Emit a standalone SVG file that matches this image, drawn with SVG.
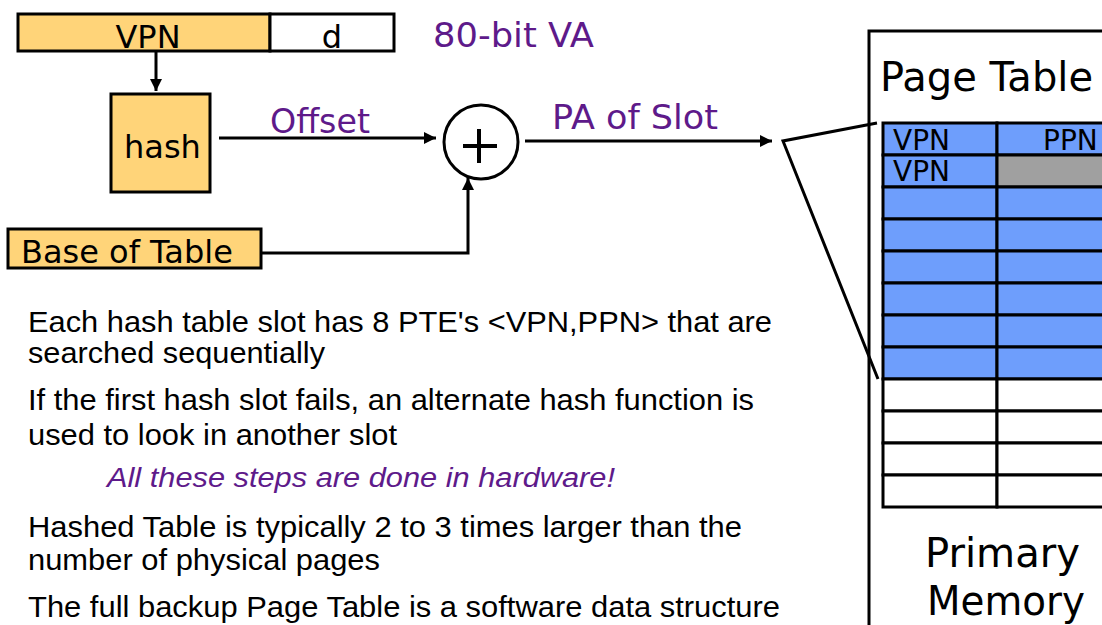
<svg xmlns="http://www.w3.org/2000/svg" width="1102" height="625" viewBox="0 0 1102 625">
  <style>
    .box { stroke: #000; stroke-width: 3; }
    .va { fill: #FFD479; }
    .wh { fill: #fff; }
    .lbl { font-family: "DejaVu Sans", Verdana, sans-serif; fill: #000; }
    .pur { font-family: "DejaVu Sans", Verdana, sans-serif; fill: #5E1A8A; }
    .wire { fill: none; stroke: #000; stroke-width: 3; }
    .body { font-family: "Liberation Sans", Arial, sans-serif; font-size: 30px; fill: #000; }
    .note { font-family: "Liberation Sans", Arial, sans-serif; font-size: 27px; font-style: italic; fill: #5E1A8A; }
    .pte { fill: #6E9EFC; stroke: #000; stroke-width: 3; }
    .empty { fill: #fff; stroke: #000; stroke-width: 3; }
    .miss { fill: #A0A0A0; stroke: #000; stroke-width: 3; }
  </style>
  <defs>
    <marker id="arrow" viewBox="0 0 10 10" refX="10" refY="5" markerWidth="4" markerHeight="4" orient="auto" markerUnits="strokeWidth">
      <path d="M0,0 L10,5 L0,10 z" fill="#000"/>
    </marker>
  </defs>
  <rect width="1102" height="625" fill="#fff"/>

  <!-- virtual address: VPN | d -->
  <g id="va">
    <rect class="box va" x="18" y="14" width="252" height="37"/>
    <rect class="box wh" x="270" y="14" width="124" height="37"/>
    <text class="lbl" x="148" y="48" font-size="32" text-anchor="middle">VPN</text>
    <text class="lbl" x="332" y="48" font-size="32" text-anchor="middle">d</text>
  </g>
  <text class="pur" x="433" y="47" font-size="33" textLength="161" lengthAdjust="spacingAndGlyphs">80-bit VA</text>

  <!-- hash function -->
  <g id="hash">
    <rect class="box va" x="111" y="94" width="99" height="98"/>
    <text class="lbl" x="124" y="158" font-size="32">hash</text>
  </g>

  <!-- table base register -->
  <g id="base">
    <rect class="box va" x="8" y="229" width="253" height="39"/>
    <text class="lbl" x="21" y="263" font-size="32">Base of Table</text>
  </g>

  <!-- adder -->
  <g id="adder">
    <circle cx="481" cy="142" r="37" fill="#fff" stroke="#000" stroke-width="3"/>
    <path d="M463,146 H497 M479,129 V163" stroke="#000" stroke-width="4" fill="none"/>
  </g>

  <!-- memory holding the hashed page table -->
  <g id="memory">
    <rect x="869" y="31" width="260" height="620" fill="#fff" stroke="#000" stroke-width="3"/>
    <text class="lbl" x="880" y="91" font-size="40">Page Table</text>
    <g id="slot">
      <rect class="pte" x="883" y="123" width="114" height="32"/>
      <rect class="pte" x="997" y="123" width="120" height="32"/>
      <rect class="pte" x="883" y="155" width="114" height="32"/>
      <rect class="miss" x="997" y="155" width="120" height="32"/>
      <rect class="pte" x="883" y="187" width="114" height="32"/>
      <rect class="pte" x="997" y="187" width="120" height="32"/>
      <rect class="pte" x="883" y="219" width="114" height="32"/>
      <rect class="pte" x="997" y="219" width="120" height="32"/>
      <rect class="pte" x="883" y="251" width="114" height="32"/>
      <rect class="pte" x="997" y="251" width="120" height="32"/>
      <rect class="pte" x="883" y="283" width="114" height="32"/>
      <rect class="pte" x="997" y="283" width="120" height="32"/>
      <rect class="pte" x="883" y="315" width="114" height="32"/>
      <rect class="pte" x="997" y="315" width="120" height="32"/>
      <rect class="pte" x="883" y="347" width="114" height="32"/>
      <rect class="pte" x="997" y="347" width="120" height="32"/>
    </g>
    <rect class="empty" x="883" y="379" width="114" height="32"/>
    <rect class="empty" x="997" y="379" width="120" height="32"/>
    <rect class="empty" x="883" y="411" width="114" height="32"/>
    <rect class="empty" x="997" y="411" width="120" height="32"/>
    <rect class="empty" x="883" y="443" width="114" height="32"/>
    <rect class="empty" x="997" y="443" width="120" height="32"/>
    <rect class="empty" x="883" y="475" width="114" height="32"/>
    <rect class="empty" x="997" y="475" width="120" height="32"/>
    <text class="lbl" x="893" y="150" font-size="28">VPN</text>
    <text class="lbl" x="1043" y="150" font-size="28">PPN</text>
    <text class="lbl" x="893" y="181" font-size="28">VPN</text>
    <text class="lbl" x="925" y="567" font-size="40" textLength="155" lengthAdjust="spacingAndGlyphs">Primary</text>
    <text class="lbl" x="927" y="615" font-size="40" textLength="158" lengthAdjust="spacingAndGlyphs">Memory</text>
  </g>

  <!-- connectors -->
  <g id="connectors">
    <line class="wire" x1="156" y1="51" x2="156" y2="91" marker-end="url(#arrow)"/>
    <line class="wire" x1="219" y1="138" x2="436" y2="138" marker-end="url(#arrow)"/>
    <polyline class="wire" points="261,253 468,253 468,178" marker-end="url(#arrow)"/>
    <line class="wire" x1="525" y1="141" x2="772" y2="141" marker-end="url(#arrow)"/>
    <polyline class="wire" points="877,123 783,141 878,379"/>
  </g>
  <text class="pur" x="270" y="133" font-size="33" textLength="100" lengthAdjust="spacingAndGlyphs">Offset</text>
  <text class="pur" x="552" y="129" font-size="33" textLength="166" lengthAdjust="spacingAndGlyphs">PA of Slot</text>

  <!-- notes -->
  <g id="notes">
    <text class="body" x="28" y="332" textLength="744" lengthAdjust="spacingAndGlyphs">Each hash table slot has 8 PTE's &lt;VPN,PPN&gt; that are</text>
    <text class="body" x="28" y="363" textLength="297" lengthAdjust="spacingAndGlyphs">searched sequentially</text>
    <text class="body" x="28" y="410" textLength="726" lengthAdjust="spacingAndGlyphs">If the first hash slot fails, an alternate hash function is</text>
    <text class="body" x="28" y="445" textLength="369" lengthAdjust="spacingAndGlyphs">used to look in another slot</text>
    <text class="note" x="107" y="487" textLength="508" lengthAdjust="spacingAndGlyphs">All these steps are done in hardware!</text>
    <text class="body" x="28" y="537" textLength="714" lengthAdjust="spacingAndGlyphs">Hashed Table is typically 2 to 3 times larger than the</text>
    <text class="body" x="28" y="570" textLength="352" lengthAdjust="spacingAndGlyphs">number of physical pages</text>
    <text class="body" x="28" y="617" textLength="752" lengthAdjust="spacingAndGlyphs">The full backup Page Table is a software data structure</text>
  </g>
</svg>
